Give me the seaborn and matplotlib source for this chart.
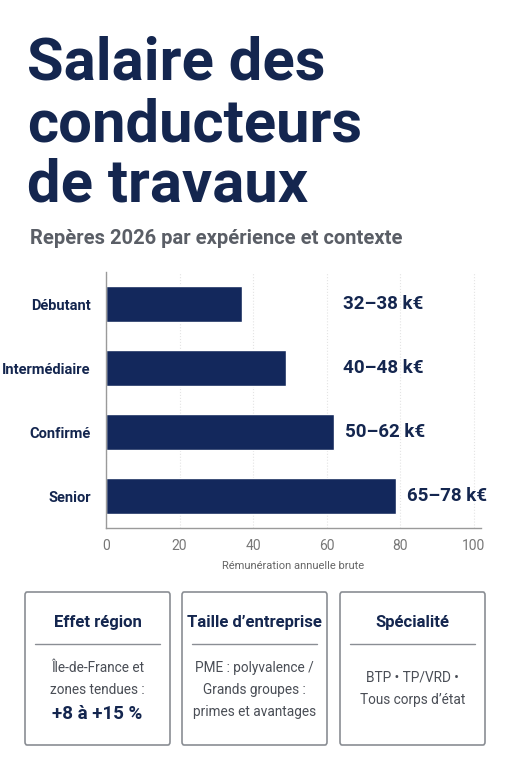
import numpy as np
import pandas as pd
import seaborn as sns
from matplotlib import pyplot as plt
from matplotlib.patches import FancyBboxPatch

sns.set_style("white")
plt.rcParams["font.family"] = ["Liberation Sans Narrow", "Roboto", "DejaVu Sans"]

levels = ["Débutant", "Intermédiaire", "Confirmé", "Senior"]
salary = [37, 49, 62, 79]
ranges = ["32–38 k€", "40–48 k€", "50–62 k€", "65–78 k€"]
ticks = [0, 20, 40, 60, 80, 100]

cards = ["Effet région", "Taille d’entreprise", "Spécialité"]
card_lines = [["Île-de-France et", "zones tendues :"],
              ["PME : polyvalence /", "Grands groupes :", "primes et avantages"],
              ["BTP • TP/VRD •", "Tous corps d’état"]]
card_bold = ["+8 à +15 %", None, None]

navy = "#14264f"
bar_c = "#13285c"
W, H = 511, 768

fig = plt.figure(figsize=(W / 100, H / 100), dpi=100)
fig.patch.set_facecolor("white")

def fx(x):
    return x / W

def fy(y):
    return 1 - y / H

for i, line in enumerate(["Salaire des", "conducteurs", "de travaux"]):
    fig.text(fx(27), fy(64 + i * 61), line, fontsize=43, fontweight="bold",
             color=navy, va="center", ha="left")
fig.text(fx(30), fy(238), "Repères 2026 par expérience et contexte", fontsize=14.5,
         fontweight="bold", color="#5a5e66", va="center")

ax = fig.add_axes([fx(106), fy(528), fx(481 - 106), (528 - 272) / H])
df = pd.DataFrame({"niveau": levels, "salaire": salary})
sns.barplot(data=df, y="niveau", x="salaire", color=bar_c, saturation=1,
            width=0.57, ax=ax)
ax.set_xlim(0, 102)
ax.set_xticks(ticks)
ax.tick_params(axis="x", colors="#777777", labelsize=10, length=0, pad=8)
ax.tick_params(axis="y", length=0, pad=11)
for lab in ax.get_yticklabels():
    lab.set_fontweight("bold")
    lab.set_fontsize(10.5)
    lab.set_color(navy)
ax.set_ylabel("")
ax.set_xlabel("Rémunération annuelle brute", fontsize=8, color="#666666", labelpad=6)
ax.grid(axis="x", color="#e4e4e4", linestyle=":", linewidth=0.8)
ax.set_axisbelow(True)
sns.despine(ax=ax, top=True, right=True)
for s in ["left", "bottom"]:
    ax.spines[s].set_color("#9a9a9a")
    ax.spines[s].set_linewidth(1)
for i, (v, r) in enumerate(zip(salary, ranges)):
    xpos = max(v + 3, 64.5)
    ax.text(xpos, i, r, va="center", ha="left", fontsize=13.5, fontweight="bold", color=navy)

x0s = [25, 182, 340]
for k in range(3):
    x0 = x0s[k]
    w = 145
    box = FancyBboxPatch((fx(x0), fy(745)), fx(w), (745 - 592) / H,
                         boxstyle="round,pad=0,rounding_size=0.004",
                         transform=fig.transFigure, facecolor="white",
                         edgecolor="#8a8e94", linewidth=1.2)
    fig.add_artist(box)
    cx = fx(x0 + w / 2)
    fig.text(cx, fy(623), cards[k], ha="center", va="center", fontsize=12,
             fontweight="bold", color=navy)
    fig.add_artist(plt.Line2D([fx(x0 + 10), fx(x0 + w - 10)], [fy(644), fy(644)],
                              transform=fig.transFigure, color="#8a8e94", lw=1))
    n = len(card_lines[k]) + (1 if card_bold[k] else 0)
    start = 668 if n >= 3 else 678
    for j, t in enumerate(card_lines[k]):
        fig.text(cx, fy(start + j * 22), t, ha="center", va="center",
                 fontsize=9.8, color="#4a4e56")
    if card_bold[k]:
        fig.text(cx, fy(start + 2 * 22 + 2), card_bold[k], ha="center", va="center",
                 fontsize=13.5, fontweight="bold", color=navy)

fig.savefig("out.png", dpi=100, facecolor="white")
